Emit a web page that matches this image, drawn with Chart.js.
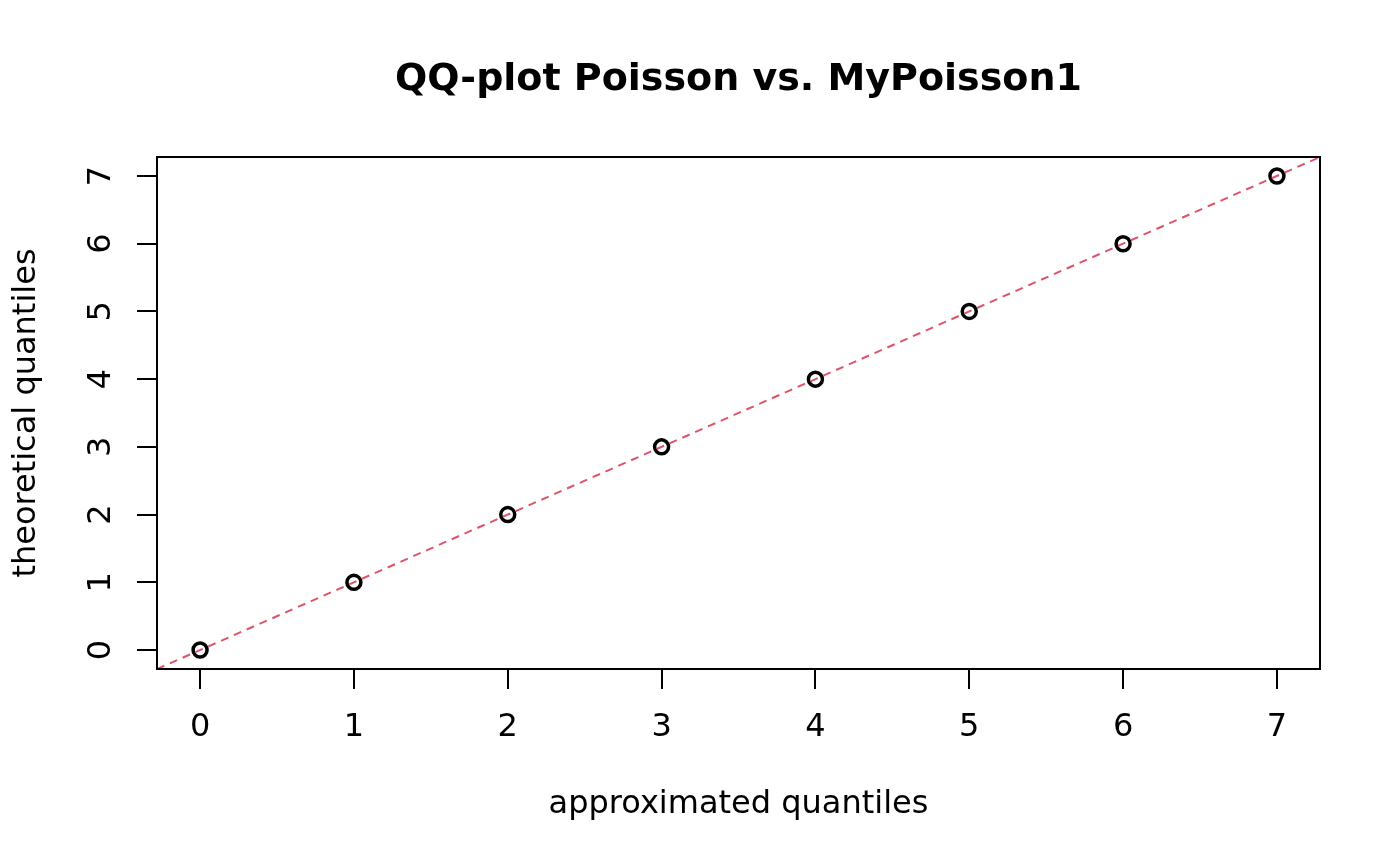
<!DOCTYPE html>
<html>
<head>
<meta charset="utf-8">
<script src="https://cdn.jsdelivr.net/npm/chart.js@4/dist/chart.umd.min.js"></script>
<style>
  html, body { margin: 0; padding: 0; background: #ffffff; }
  #wrap { width: 1400px; height: 866px; }
</style>
</head>
<body>
<div id="wrap"><canvas id="qqChart" width="1400" height="866"></canvas></div>
<script>
// QQ data: approximated vs theoretical quantiles
const approxQuantiles = [0, 1, 2, 3, 4, 5, 6, 7];
const theoQuantiles = [0, 1, 2, 3, 4, 5, 6, 7];
const xTicks = [0, 1, 2, 3, 4, 5, 6, 7];
const yTicks = [0, 1, 2, 3, 4, 5, 6, 7];
const axisRange = [-0.28, 7.28];   // R's 4% axis extension

const chartTitle = 'QQ-plot Poisson vs. MyPoisson1';
const xTitle = 'approximated quantiles';
const yTitle = 'theoretical quantiles';

const theme = {
    font: '"DejaVu Sans", sans-serif',
    ink: '#000000',
    refLine: '#DF536B',
};

const points = approxQuantiles.map((x, i) => ({ x: x, y: theoQuantiles[i] }));
// y = x reference line across the whole plot region
const refLinePts = axisRange.map(v => ({ x: v, y: v }));

// draws the box, tick labels and titles in base-R style
const rStylePlugin = {
    id: 'rStyle',
    afterDraw(chart) {
        const ctx = chart.ctx;
        const area = chart.chartArea;
        const xs = chart.scales.x;
        const ys = chart.scales.y;
        ctx.save();
        ctx.strokeStyle = theme.ink;
        ctx.lineWidth = 2;
        ctx.strokeRect(area.left, area.top, area.right - area.left, area.bottom - area.top);

        ctx.fillStyle = theme.ink;
        ctx.font = '32px ' + theme.font;
        ctx.textAlign = 'center';
        ctx.textBaseline = 'middle';
        xTicks.forEach(v => {
            ctx.fillText(String(v), xs.getPixelForValue(v), area.bottom + 59);
        });
        yTicks.forEach(v => {
            ctx.save();
            ctx.translate(area.left - 55, ys.getPixelForValue(v));
            ctx.rotate(-Math.PI / 2);
            ctx.fillText(String(v), 0, 0);
            ctx.restore();
        });

        const midX = (area.left + area.right) / 2;
        const midY = (area.top + area.bottom) / 2;
        ctx.fillText(xTitle, midX, area.bottom + 136);
        ctx.save();
        ctx.translate(27, midY);
        ctx.rotate(-Math.PI / 2);
        ctx.fillText(yTitle, 0, 0);
        ctx.restore();

        ctx.font = 'bold 38px ' + theme.font;
        ctx.fillText(chartTitle, midX, 80);
        ctx.restore();
    }
};

const axisCommon = {
    type: 'linear',
    min: axisRange[0],
    max: axisRange[1],
    border: { display: false },
    grid: {
        drawOnChartArea: false,
        drawTicks: true,
        tickLength: 20,
        color: theme.ink,
        lineWidth: 2,
    },
    ticks: { display: false, includeBounds: false },
};

const ctx = document.getElementById('qqChart').getContext('2d');
new Chart(ctx, {
    type: 'scatter',
    data: {
        datasets: [{
            label: 'quantiles',
            data: points,
            pointStyle: 'circle',
            pointRadius: 7,
            pointBorderWidth: 3.5,
            pointBackgroundColor: 'rgba(0,0,0,0)',
            pointBorderColor: theme.ink,
            showLine: false,
            order: 2,
        }, {
            type: 'line',
            label: 'y = x',
            data: refLinePts,
            borderColor: theme.refLine,
            borderWidth: 2,
            borderDash: [8, 6],
            pointRadius: 0,
            fill: false,
            order: 1,
        }]
    },
    options: {
        responsive: false,
        devicePixelRatio: 1,
        animation: false,
        events: [],
        layout: { padding: { top: 157, right: 80, left: 0, bottom: 0 } },
        scales: {
            x: {
                ...axisCommon,
                position: 'bottom',
                afterBuildTicks: s => { s.ticks = xTicks.map(v => ({ value: v })); },
                afterFit: s => { s.height = 197; },
            },
            y: {
                ...axisCommon,
                position: 'left',
                afterBuildTicks: s => { s.ticks = yTicks.map(v => ({ value: v })); },
                afterFit: s => { s.width = 157; },
            }
        },
        plugins: {
            legend: { display: false },
            title: { display: false },
            tooltip: { enabled: false },
        }
    },
    plugins: [rStylePlugin]
});
</script>
</body>
</html>
